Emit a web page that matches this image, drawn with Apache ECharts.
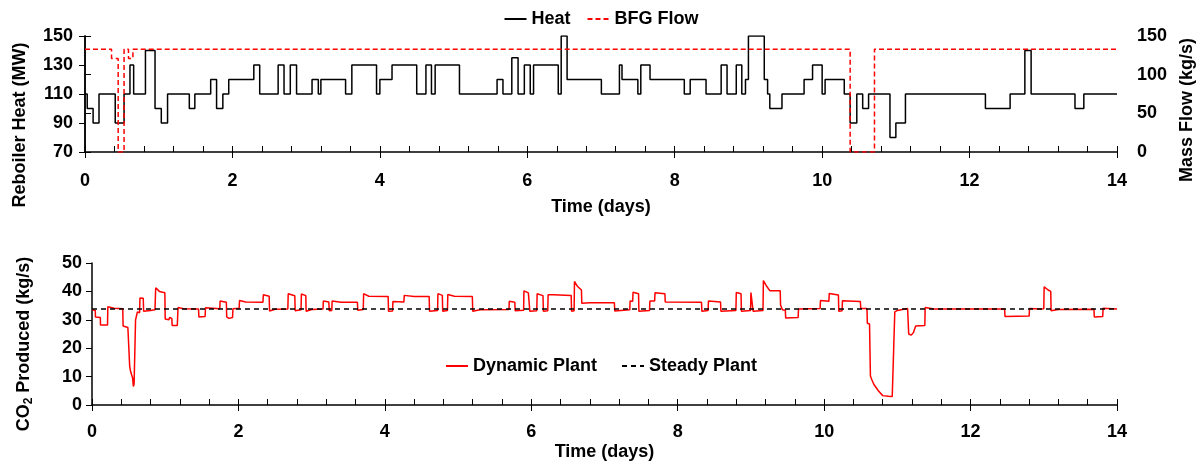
<!DOCTYPE html>
<html>
<head>
    <meta charset="utf-8">
    <title>Reboiler heat, BFG flow and CO2 produced</title>
    <script src="https://cdn.jsdelivr.net/npm/echarts@6/dist/echarts.min.js"></script>
</head>
<body style="margin:0">
    <div id="main" style="width: 1202px; height: 466px;"></div>

    <script>
        // reboiler heat (MW): step changes, level starts at the given day
        var heatDays = [0, 0.03, 0.11, 0.19, 0.41, 0.53, 0.61, 0.66, 0.82, 0.95, 1.035, 1.12, 1.415, 1.49, 1.705, 1.785, 1.87, 1.95,
            2.29, 2.37, 2.62, 2.70, 2.785, 2.87, 3.08, 3.165, 3.20, 3.535, 3.62, 3.955, 4.00, 4.165, 4.50, 4.625, 4.70, 4.75,
            5.08, 5.59, 5.67, 5.79, 5.875, 5.96, 6.04, 6.085, 6.42, 6.46, 6.54, 7.005, 7.25, 7.285, 7.50, 7.54, 7.665,
            8.13, 8.21, 8.425, 8.63, 8.71, 8.835, 8.91, 8.96, 9.00, 9.215, 9.26, 9.29, 9.455, 9.755, 9.87, 10.0, 10.04,
            10.30, 10.38, 10.47, 10.55, 10.63, 10.92, 11.00, 11.13, 12.215, 12.55, 12.75, 12.835, 13.43, 13.55, 14];
        var heatValues = [110, 100, 90, 110, 90, 110, 130, 110, 140, 100, 90, 110, 100, 110, 120, 100, 110, 120,
            130, 110, 130, 110, 130, 110, 120, 110, 120, 110, 130, 110, 120, 130, 110, 130, 110, 130,
            110, 120, 110, 135, 110, 130, 110, 130, 110, 150, 120, 110, 130, 120, 110, 130, 120,
            110, 120, 110, 130, 110, 130, 110, 120, 150, 120, 110, 100, 110, 120, 130, 110, 120,
            110, 90, 110, 100, 110, 80, 90, 110, 100, 110, 140, 110, 100, 110, 110];

        // BFG mass flow (kg/s)
        var bfgDays = [0, 0.36, 0.45, 0.53, 0.59, 0.65, 10.38, 10.71, 14];
        var bfgValues = [133, 121, 0, 133, 121, 133, 0, 133, 133];

        // CO2 produced, dynamic plant (kg/s)
        var co2Days = [0, 0.045, 0.047, 0.114, 0.116, 0.212, 0.216, 0.30, 0.42, 0.425, 0.49, 0.50, 0.515, 0.53, 0.555, 0.565, 0.575, 0.595,
            0.62, 0.65, 0.655, 0.70, 0.705, 0.80, 0.86, 0.87, 0.92, 0.995, 1.0, 1.05, 1.06, 1.09, 1.095, 1.165, 1.175, 1.25,
            1.455, 1.46, 1.545, 1.55, 1.745, 1.75, 1.835, 1.84, 1.87, 1.92, 1.925, 2.01, 2.015, 2.10, 2.335, 2.34, 2.42, 2.425,
            2.50, 2.675, 2.68, 2.77, 2.775, 2.855, 2.86, 2.92, 2.925, 3.0, 3.155, 3.16, 3.235, 3.24, 3.275, 3.28, 3.40, 3.625,
            3.63, 3.705, 3.71, 3.78, 4.045, 4.05, 4.105, 4.11, 4.26, 4.265, 4.40, 4.605, 4.61, 4.72, 4.725, 4.785, 4.79, 4.855,
            4.86, 4.95, 5.195, 5.20, 5.30, 5.695, 5.70, 5.775, 5.78, 5.895, 5.90, 5.96, 5.975, 5.98, 6.075, 6.08, 6.16, 6.165,
            6.225, 6.23, 6.30, 6.545, 6.55, 6.585, 6.59, 6.63, 6.685, 6.69, 6.80, 7.135, 7.14, 7.345, 7.35, 7.385, 7.39, 7.465,
            7.47, 7.615, 7.62, 7.685, 7.69, 7.825, 7.83, 8.325, 8.33, 8.415, 8.42, 8.585, 8.59, 8.795, 8.80, 8.865, 8.87, 8.995,
            9.0, 9.025, 9.03, 9.165, 9.17, 9.21, 9.26, 9.40, 9.405, 9.43, 9.47, 9.475, 9.645, 9.65, 9.945, 9.95, 10.065, 10.07,
            10.195, 10.20, 10.245, 10.25, 10.495, 10.50, 10.585, 10.59, 10.62, 10.632, 10.65, 10.68, 10.74, 10.80, 10.88, 10.93,
            10.955, 10.965, 11.0, 11.14, 11.15, 11.155, 11.19, 11.22, 11.245, 11.25, 11.375, 11.38, 11.50, 12.465, 12.47, 12.80,
            12.805, 12.95, 13.0, 13.005, 13.06, 13.095, 13.10, 13.20, 13.685, 13.69, 13.805, 13.81, 14.0];
        var co2Values = [33.5, 33.3, 31.0, 30.8, 28.2, 28.2, 34.6, 34.1, 33.9, 27.8, 27.3, 27.0, 13.5, 11.5, 9.5, 6.5, 7.5, 30.0,
            32.8, 32.5, 37.7, 37.6, 33.0, 33.3, 33.5, 41.3, 40.0, 39.5, 30.3, 30.0, 30.8, 30.5, 28.0, 28.0, 34.3, 33.9,
            33.8, 31.0, 31.2, 34.2, 33.9, 36.6, 36.2, 31.0, 30.5, 30.8, 33.9, 34.1, 36.8, 36.3, 36.2, 38.8, 38.3, 33.1,
            33.7, 33.8, 39.2, 38.5, 33.2, 33.5, 39.1, 38.5, 33.0, 33.6, 33.8, 36.6, 36.3, 33.2, 33.3, 36.6, 36.2, 36.2,
            33.4, 33.6, 39.2, 38.3, 38.2, 33.0, 33.1, 36.4, 36.3, 38.6, 38.2, 38.2, 33.0, 33.3, 39.2, 38.6, 33.0, 33.3,
            38.9, 38.3, 38.2, 33.0, 33.5, 33.6, 36.5, 36.2, 33.2, 33.4, 40.2, 39.5, 39.4, 33.0, 33.2, 39.2, 38.5, 33.0,
            33.2, 38.8, 38.8, 38.6, 33.0, 33.2, 43.5, 41.8, 40.5, 35.8, 36.0, 36.0, 33.1, 33.5, 36.6, 36.5, 39.7, 39.2,
            33.0, 33.3, 36.6, 36.6, 39.5, 39.2, 36.3, 36.2, 33.0, 33.3, 36.6, 36.3, 33.0, 33.3, 39.6, 39.2, 33.0, 33.3,
            39.6, 39.5, 33.0, 33.3, 43.8, 42.0, 40.2, 40.2, 35.2, 33.5, 33.4, 30.6, 30.8, 33.8, 34.0, 36.8, 36.5, 39.3,
            38.7, 33.0, 33.2, 36.7, 36.4, 34.0, 34.0, 28.8, 28.5, 10.2, 9.0, 7.2, 5.0, 3.3, 3.1, 3.0,
            2.5, 32.8, 33.3, 34.0, 33.9, 25.0, 24.6, 25.5, 25.7, 27.8, 28.0, 34.3, 33.8, 33.8, 31.2, 31.3,
            34.0, 33.8, 33.9, 41.6, 40.5, 40.0, 33.2, 33.6, 33.7, 31.0, 31.2, 34.1, 33.8];

        // CO2 produced, steady plant (kg/s)
        var steadyDays = [0, 14];
        var steadyValues = [33.8, 33.8];

        var heatTicks = [70, 90, 110, 130, 150];

        function pairs(xs, ys) {
            return xs.map(function (x, i) { return [x, ys[i]]; });
        }

        var font = 'Liberation Sans';
        var txt = { color: '#000', fontFamily: font, fontWeight: 'bold', fontSize: 18 };
        var axLine = { show: true, lineStyle: { color: '#000', width: 1.5 } };

        function mainX(gridIndex, margin, nameGap) {
            return {
                type: 'value', gridIndex: gridIndex, position: 'bottom', min: 0, max: 14, interval: 2,
                axisLine: axLine,
                axisTick: { show: true, inside: false, length: 6, lineStyle: { color: '#000', width: 1 } },
                axisLabel: Object.assign({ margin: margin }, txt),
                splitLine: { show: false },
                name: 'Time (days)', nameLocation: 'middle', nameGap: nameGap,
                nameTextStyle: txt
            };
        }
        function minorX(gridIndex) {
            return {
                type: 'value', gridIndex: gridIndex, position: 'bottom', min: 0, max: 14, interval: 0.4,
                axisLine: { show: false },
                axisTick: { show: true, inside: true, length: 6, lineStyle: { color: '#000', width: 1 } },
                axisLabel: { show: false },
                splitLine: { show: false }
            };
        }

        var myChart = echarts.init(document.getElementById('main'));

        var option = {
            animation: false,
            backgroundColor: '#fff',
            grid: [
                { left: 85, right: 85, top: 36, height: 116 },
                { left: 92, right: 85, top: 263, height: 142 }
            ],
            legend: [
                {
                    data: ['Heat', 'BFG Flow'], top: 5, left: 'center',
                    itemWidth: 22, itemHeight: 10, itemGap: 16, textStyle: txt,
                    itemStyle: { opacity: 0 }
                },
                {
                    data: ['Dynamic Plant', 'Steady Plant'], top: 352, left: 'center',
                    itemWidth: 22, itemHeight: 10, itemGap: 24, textStyle: txt,
                    itemStyle: { opacity: 0 }
                }
            ],
            xAxis: [mainX(0, 20, 46), minorX(0), mainX(1, 18, 38), minorX(1)],
            yAxis: [
                {
                    type: 'value', gridIndex: 0, min: 70, max: 150,
                    axisLine: axLine,
                    axisTick: { show: true, length: 6, customValues: heatTicks, lineStyle: { color: '#000' } },
                    axisLabel: Object.assign({ margin: 12, customValues: heatTicks }, txt),
                    splitLine: { show: false }
                },
                {
                    type: 'value', gridIndex: 0, min: 0, max: 150, interval: 50, position: 'right',
                    axisLine: axLine,
                    axisTick: { show: true, length: 6, lineStyle: { color: '#000' } },
                    axisLabel: Object.assign({ margin: 20 }, txt),
                    splitLine: { show: false }
                },
                {
                    type: 'value', gridIndex: 1, min: 0, max: 50, interval: 10,
                    axisLine: axLine,
                    axisTick: { show: true, length: 6, lineStyle: { color: '#000' } },
                    axisLabel: Object.assign({ margin: 10 }, txt),
                    splitLine: { show: false }
                }
            ],
            graphic: [
                {
                    type: 'text', x: 20, y: 125, rotation: Math.PI / 2,
                    style: { text: 'Reboiler Heat (MW)', fill: '#000', fontFamily: font, fontWeight: 'bold', fontSize: 18, align: 'center', verticalAlign: 'middle' }
                },
                {
                    type: 'text', x: 1187, y: 110, rotation: Math.PI / 2,
                    style: { text: 'Mass Flow (kg/s)', fill: '#000', fontFamily: font, fontWeight: 'bold', fontSize: 18, align: 'center', verticalAlign: 'middle' }
                },
                {
                    type: 'text', x: 24, y: 344, rotation: Math.PI / 2,
                    style: {
                        text: '{a|CO}{s|2}{a| Produced (kg/s)}', fill: '#000', align: 'center', verticalAlign: 'middle',
                        rich: {
                            a: { fontFamily: font, fontWeight: 'bold', fontSize: 18, lineHeight: 20, fill: '#000' },
                            s: { fontFamily: font, fontWeight: 'bold', fontSize: 12, lineHeight: 20, padding: [9, 0, 0, 0], fill: '#000' }
                        }
                    }
                }
            ],
            series: [
                {
                    name: 'Heat', type: 'line', xAxisIndex: 0, yAxisIndex: 0, step: 'end',
                    symbol: 'none', lineStyle: { color: '#000', width: 1.5 }, itemStyle: { color: '#000' },
                    data: pairs(heatDays, heatValues)
                },
                {
                    name: 'BFG Flow', type: 'line', xAxisIndex: 0, yAxisIndex: 1, step: 'end',
                    symbol: 'none', lineStyle: { color: '#ff0000', width: 1.5, type: [5, 3] }, itemStyle: { color: '#ff0000' },
                    data: pairs(bfgDays, bfgValues)
                },
                {
                    name: 'Dynamic Plant', type: 'line', xAxisIndex: 2, yAxisIndex: 2,
                    symbol: 'none', lineStyle: { color: '#ff0000', width: 1.5 }, itemStyle: { color: '#ff0000' },
                    data: pairs(co2Days, co2Values)
                },
                {
                    name: 'Steady Plant', type: 'line', xAxisIndex: 2, yAxisIndex: 2,
                    symbol: 'none', lineStyle: { color: '#000', width: 1.5, type: [5, 4] }, itemStyle: { color: '#000' },
                    data: pairs(steadyDays, steadyValues)
                }
            ]
        };

        myChart.setOption(option);
    </script>
</body>
</html>
